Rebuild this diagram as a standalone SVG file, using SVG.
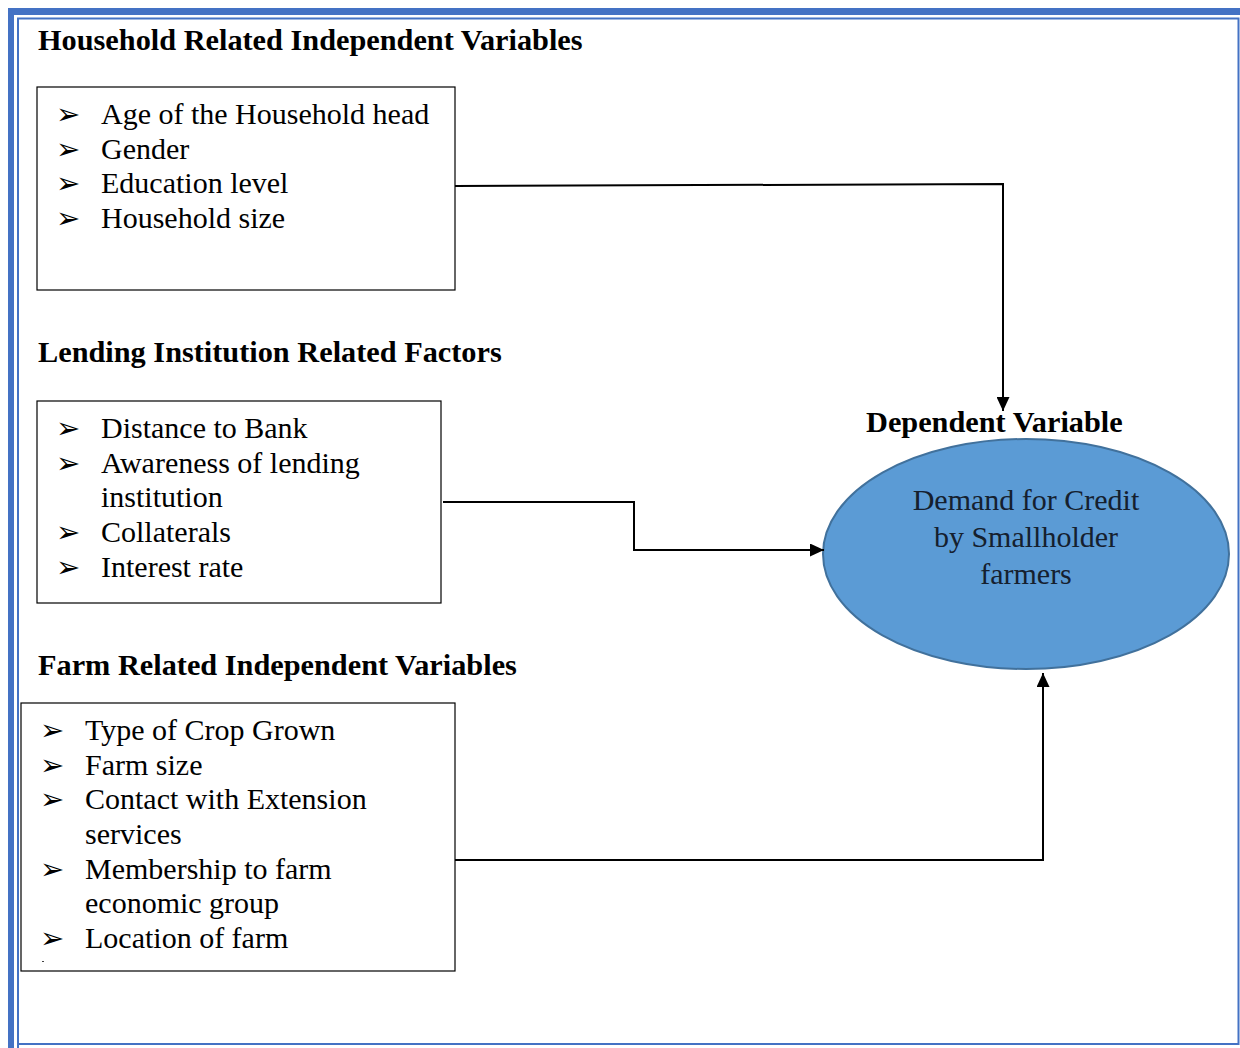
<svg xmlns="http://www.w3.org/2000/svg" width="1240" height="1048" viewBox="0 0 1240 1048">
<style>
.h{font-family:"Liberation Serif","Times New Roman",serif;font-weight:bold;font-size:30.3px;fill:#000}
.t{font-family:"Liberation Serif","Times New Roman",serif;font-size:30px;fill:#000}
.b{font-family:"DejaVu Sans",sans-serif;font-size:29px;fill:#000}
.box{fill:#fff;stroke:#000;stroke-width:1.2}
.c{fill:none;stroke:#000;stroke-width:2}
.e{font-family:"Liberation Serif","Times New Roman",serif;font-size:30px;fill:#15202e;text-anchor:middle}
</style>
<defs>
<marker id="a" viewBox="0 0 14 13" refX="14" refY="6.5" markerWidth="14" markerHeight="13" markerUnits="userSpaceOnUse" orient="auto">
<path d="M0,0 L14,6.5 L0,13 z" fill="#000"/>
</marker>
</defs>
<rect width="1240" height="1048" fill="#fff"/>
<g id="frame">
<rect x="8" y="8" width="1232" height="7" fill="#4472C4"/>
<rect x="8" y="8" width="6" height="1040" fill="#4472C4"/>
<path d="M18,1048 V18.5 H1238.5 V1044 H18" fill="none" stroke="#4472C4" stroke-width="2"/>
</g>
<g id="household">
<text class="h" x="38" y="50">Household Related Independent Variables</text>
<rect class="box" x="37" y="87" width="418" height="203"/>
<text class="b" x="56" y="124">➢</text><text class="t" x="101" y="124">Age of the Household head</text>
<text class="b" x="56" y="159">➢</text><text class="t" x="101" y="159">Gender</text>
<text class="b" x="56" y="193">➢</text><text class="t" x="101" y="193">Education level</text>
<text class="b" x="56" y="228">➢</text><text class="t" x="101" y="228">Household size</text>
</g>
<g id="lending">
<text class="h" x="38" y="362">Lending Institution Related Factors</text>
<rect class="box" x="37" y="401" width="404" height="202"/>
<text class="b" x="56" y="438">➢</text><text class="t" x="101" y="438">Distance to Bank</text>
<text class="b" x="56" y="473">➢</text><text class="t" x="101" y="473">Awareness of lending</text>
<text class="t" x="101" y="507">institution</text>
<text class="b" x="56" y="542">➢</text><text class="t" x="101" y="542">Collaterals</text>
<text class="b" x="56" y="577">➢</text><text class="t" x="101" y="577">Interest rate</text>
</g>
<g id="farm">
<text class="h" x="38" y="675">Farm Related Independent Variables</text>
<rect class="box" x="21" y="703" width="434" height="268"/>
<text class="b" x="40" y="740">➢</text><text class="t" x="85" y="740">Type of Crop Grown</text>
<text class="b" x="40" y="775">➢</text><text class="t" x="85" y="775">Farm size</text>
<text class="b" x="40" y="809">➢</text><text class="t" x="85" y="809">Contact with Extension</text>
<text class="t" x="85" y="844">services</text>
<text class="b" x="40" y="879">➢</text><text class="t" x="85" y="879">Membership to farm</text>
<text class="t" x="85" y="913">economic group</text>
<text class="b" x="40" y="948">➢</text><text class="t" x="85" y="948">Location of farm</text>
<rect x="42" y="961" width="2" height="1" fill="#444"/>
</g>
<g id="dependent">
<text class="h" x="866" y="432">Dependent Variable</text>
<ellipse cx="1026" cy="554" rx="203" ry="115" fill="#5B9BD5" stroke="#41719C" stroke-width="2"/>
<text class="e" x="1026" y="510">Demand for Credit</text>
<text class="e" x="1026" y="547">by Smallholder</text>
<text class="e" x="1026" y="584">farmers</text>
</g>
<g id="connectors">
<path class="c" d="M455,186 L1003,184 V411" marker-end="url(#a)"/>
<path class="c" d="M443,502 H634 V550 H824" marker-end="url(#a)"/>
<path class="c" d="M455,860 H1043 V673" marker-end="url(#a)"/>
</g>
</svg>
